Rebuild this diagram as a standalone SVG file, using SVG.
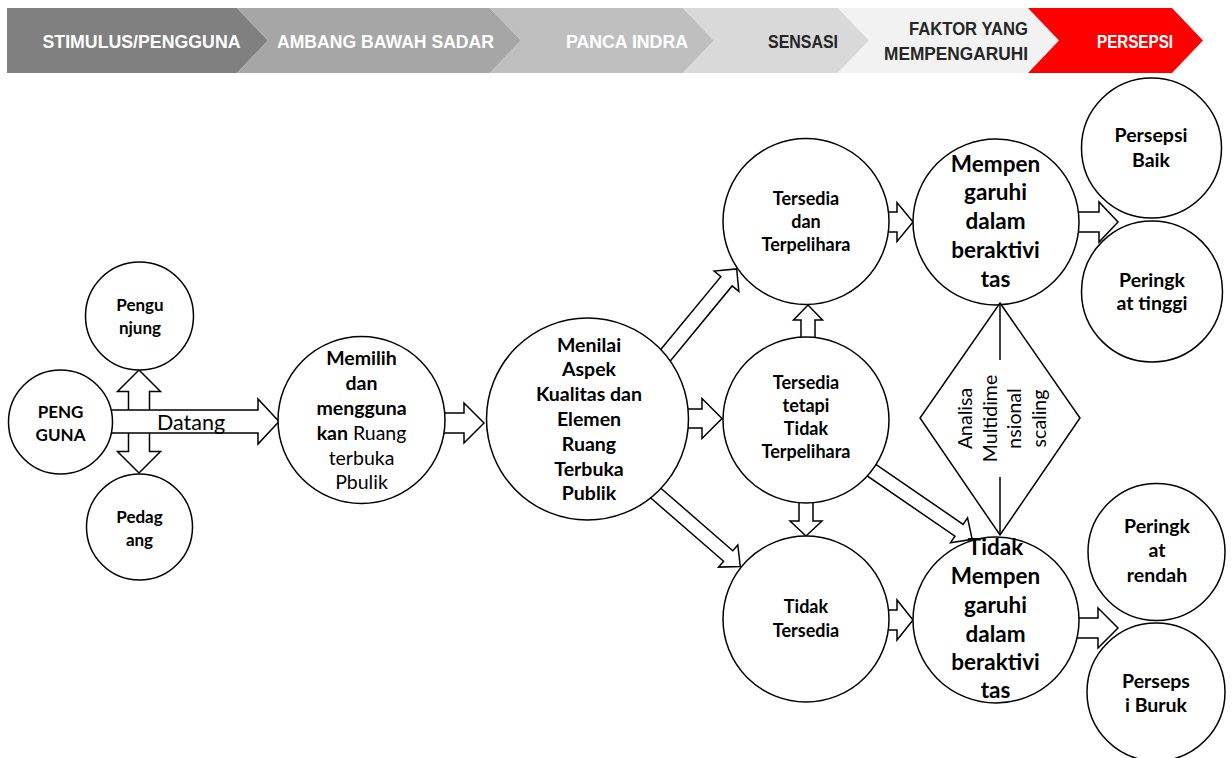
<svg xmlns="http://www.w3.org/2000/svg" width="1232" height="758" viewBox="0 0 1232 758">
<style>
.hd{font-family:"Liberation Sans",Arial,sans-serif;font-weight:bold;font-size:18.5px}
.w{fill:#ffffff}
.dk{fill:#262626}
.nd{fill:#ffffff;stroke:#000000;stroke-width:1.5}
.ar{fill:#ffffff;stroke:#000000;stroke-width:1.5;stroke-linejoin:miter}
.t{font-family:Lato,"Liberation Sans",sans-serif;fill:#000000;text-anchor:middle}
.b{font-weight:bold}
.s16{font-size:17px}
.s17{font-size:18px}
.s18{font-size:19.5px}
.s19{font-size:19.5px}
.s22{font-size:22.5px}
.rg{font-family:Lato,"Liberation Sans",sans-serif;font-size:19.5px;fill:#000000;text-anchor:middle}
</style>
<rect width="1232" height="758" fill="#ffffff"/>
<g id="header">
<polygon points="7,8 237,8 268,40.5 237,73 7,73" fill="#808080"/>
<polygon points="237,8 490,8 521,40.5 490,73 237,73 268,40.5" fill="#a6a6a6"/>
<polygon points="490,8 683,8 714,40.5 683,73 490,73 521,40.5" fill="#bfbfbf"/>
<polygon points="683,8 838,8 869,40.5 838,73 683,73 714,40.5" fill="#d9d9d9"/>
<polygon points="838,8 1028,8 1059,40.5 1028,73 838,73 869,40.5" fill="#f2f2f2"/>
<polygon points="1028,8 1172,8 1203,40.5 1172,73 1028,73 1059,40.5" fill="#ff0000"/>
<text class="hd w" x="42.5" y="47.7" textLength="198" lengthAdjust="spacingAndGlyphs">STIMULUS/PENGGUNA</text>
<text class="hd w" x="277" y="47.7" textLength="217" lengthAdjust="spacingAndGlyphs">AMBANG BAWAH SADAR</text>
<text class="hd w" x="566" y="47.7" textLength="122" lengthAdjust="spacingAndGlyphs">PANCA INDRA</text>
<text class="hd dk" x="768" y="47.7" textLength="70" lengthAdjust="spacingAndGlyphs">SENSASI</text>
<text class="hd dk" x="909" y="34.5" textLength="119" lengthAdjust="spacingAndGlyphs">FAKTOR YANG</text>
<text class="hd dk" x="884" y="59.5" textLength="144" lengthAdjust="spacingAndGlyphs">MEMPENGARUHI</text>
<text class="hd w" x="1097" y="47.7" textLength="76" lengthAdjust="spacingAndGlyphs">PERSEPSI</text>
</g>
<g id="connectors">
<polygon class="ar" points="139,370 160.5,391.5 149.5,391.5 149.5,451.5 160.5,451.5 139,473 117.5,451.5 128.5,451.5 128.5,391.5 117.5,391.5"/>
<polygon class="ar" points="108,410 258,410 258,399 279,421.5 258,444 258,433 108,433"/>
<text x="157" y="430" style="font-family:Lato,'Liberation Sans',sans-serif;font-size:21.5px;fill:#000">Datang</text>
<polygon class="ar" points="440,413 464,413 464,403 484,423 464,443 464,433 440,433"/>
<polygon class="ar" transform="translate(666.7,353.8) rotate(-50.5)" points="-8,-7.3 94,-7.3 94,-16 110,0 94,16 94,7.3 -8,7.3"/>
<polygon class="ar" points="684,409 702,409 702,398.5 722,418.5 702,438.5 702,428 684,428"/>
<polygon class="ar" transform="translate(658,495) rotate(41)" points="-8,-7 93,-7 93,-14.7 109,0 93,14.7 93,7 -8,7"/>
<polygon class="ar" points="808,305 822.5,320 815,320 815,341 801,341 801,320 793.5,320"/>
<polygon class="ar" points="799,499 813,499 813,521 822,521 806,536 790,521 799,521"/>
<polygon class="ar" points="884,212 897,212 897,202.5 913,222 897,241.5 897,232 884,232"/>
<polygon class="ar" points="884,610 897,610 897,600 913,620 897,640 897,630 884,630"/>
<polygon class="ar" transform="translate(872.5,470.8) rotate(34.5)" points="-8,-7.2 105,-7.2 105,-15 121,0 105,15 105,7.2 -8,7.2"/>
<polygon class="ar" points="1074,212 1099,212 1099,202 1118,222 1099,242 1099,232 1074,232"/>
<polygon class="ar" points="1074,618 1098,618 1098,608 1118,628 1098,648 1098,638 1074,638"/>
</g>
<g id="node-pengguna">
<circle class="nd" cx="60.5" cy="422" r="52"/>
<text class="t b s16" x="60.5" y="418">PENG</text>
<text class="t b s16" x="60.5" y="441">GUNA</text>
</g>
<g id="node-pengunjung">
<circle class="nd" cx="139.5" cy="316" r="54"/>
<text class="t b s16" x="140" y="311">Pengu</text>
<text class="t b s16" x="140" y="334">njung</text>
</g>
<g id="node-pedagang">
<circle class="nd" cx="139.5" cy="527" r="53"/>
<text class="t b s16" x="139.5" y="523">Pedag</text>
<text class="t b s16" x="139.5" y="546">ang</text>
</g>
<g id="node-memilih">
<circle class="nd" cx="361.5" cy="420" r="83.5"/>
<text class="t b s19" x="361.5" y="365">Memilih</text>
<text class="t b s19" x="361.5" y="390">dan</text>
<text class="t b s19" x="361.5" y="415">mengguna</text>
<text class="t s19" x="361.5" y="440"><tspan class="b">kan</tspan> Ruang</text>
<text class="t s19" x="361.5" y="465">terbuka</text>
<text class="t s19" x="361.5" y="489">Pbulik</text>
</g>
<g id="node-menilai">
<circle class="nd" cx="587.5" cy="419" r="101"/>
<text class="t b s19" x="589" y="352">Menilai</text>
<text class="t b s19" x="589" y="376">Aspek</text>
<text class="t b s19" x="589" y="401">Kualitas dan</text>
<text class="t b s19" x="589" y="426">Elemen</text>
<text class="t b s19" x="589" y="451">Ruang</text>
<text class="t b s19" x="589" y="476">Terbuka</text>
<text class="t b s19" x="589" y="500">Publik</text>
</g>
<g id="node-tersedia-terpelihara">
<circle class="nd" cx="806" cy="221.5" r="83"/>
<text class="t b s17" x="806" y="205">Tersedia</text>
<text class="t b s17" x="806" y="228">dan</text>
<text class="t b s17" x="806" y="251">Terpelihara</text>
</g>
<g id="node-tersedia-tidak-terpelihara">
<circle class="nd" cx="806" cy="420" r="83"/>
<text class="t b s17" x="806" y="389">Tersedia</text>
<text class="t b s17" x="806" y="412">tetapi</text>
<text class="t b s17" x="806" y="435">Tidak</text>
<text class="t b s17" x="806" y="458">Terpelihara</text>
</g>
<g id="node-tidak-tersedia">
<circle class="nd" cx="806" cy="619" r="83"/>
<text class="t b s17" x="806" y="613">Tidak</text>
<text class="t b s17" x="806" y="637">Tersedia</text>
</g>
<g id="node-mempengaruhi">
<circle class="nd" cx="996" cy="222" r="83"/>
<text class="t b s22" x="995.5" y="172">Mempen</text>
<text class="t b s22" x="995.5" y="200">garuhi</text>
<text class="t b s22" x="995.5" y="229">dalam</text>
<text class="t b s22" x="995.5" y="258">beraktivi</text>
<text class="t b s22" x="995.5" y="287">tas</text>
</g>
<g id="node-analisa">
<polygon points="1000,303 1080,418 1000,535 920,418" fill="#ffffff" stroke="#000000" stroke-width="1.5" stroke-linejoin="miter"/>
<line x1="1000" y1="303" x2="1000" y2="360" stroke="#000000" stroke-width="1.5"/>
<line x1="1000" y1="477" x2="1000" y2="535" stroke="#000000" stroke-width="1.5"/>
<text class="rg" transform="translate(972,418.5) rotate(-90)">Analisa</text>
<text class="rg" transform="translate(996.5,418.5) rotate(-90)">Multidime</text>
<text class="rg" transform="translate(1021,418.5) rotate(-90)">nsional</text>
<text class="rg" transform="translate(1045.5,418.5) rotate(-90)">scaling</text>
</g>
<g id="node-tidak-mempengaruhi">
<circle class="nd" cx="996" cy="620" r="83"/>
<text class="t b s22" x="995.5" y="555">Tidak</text>
<text class="t b s22" x="995.5" y="584">Mempen</text>
<text class="t b s22" x="995.5" y="613">garuhi</text>
<text class="t b s22" x="995.5" y="642">dalam</text>
<text class="t b s22" x="995.5" y="670">beraktivi</text>
<text class="t b s22" x="995.5" y="698">tas</text>
</g>
<g id="node-persepsi-baik">
<circle class="nd" cx="1151.5" cy="148" r="70"/>
<text class="t b s18" x="1151" y="142">Persepsi</text>
<text class="t b s18" x="1151" y="167">Baik</text>
</g>
<g id="node-peringkat-tinggi">
<circle class="nd" cx="1152" cy="291.5" r="70.5"/>
<text class="t b s18" x="1152" y="287">Peringk</text>
<text class="t b s18" x="1152" y="310">at tinggi</text>
</g>
<g id="node-peringkat-rendah">
<circle class="nd" cx="1156.5" cy="552" r="68.5"/>
<text class="t b s18" x="1157" y="533">Peringk</text>
<text class="t b s18" x="1157" y="557">at</text>
<text class="t b s18" x="1157" y="582">rendah</text>
</g>
<g id="node-persepsi-buruk">
<circle class="nd" cx="1156" cy="692" r="69"/>
<text class="t b s18" x="1156" y="688">Perseps</text>
<text class="t b s18" x="1156" y="712">i Buruk</text>
</g>
</svg>
